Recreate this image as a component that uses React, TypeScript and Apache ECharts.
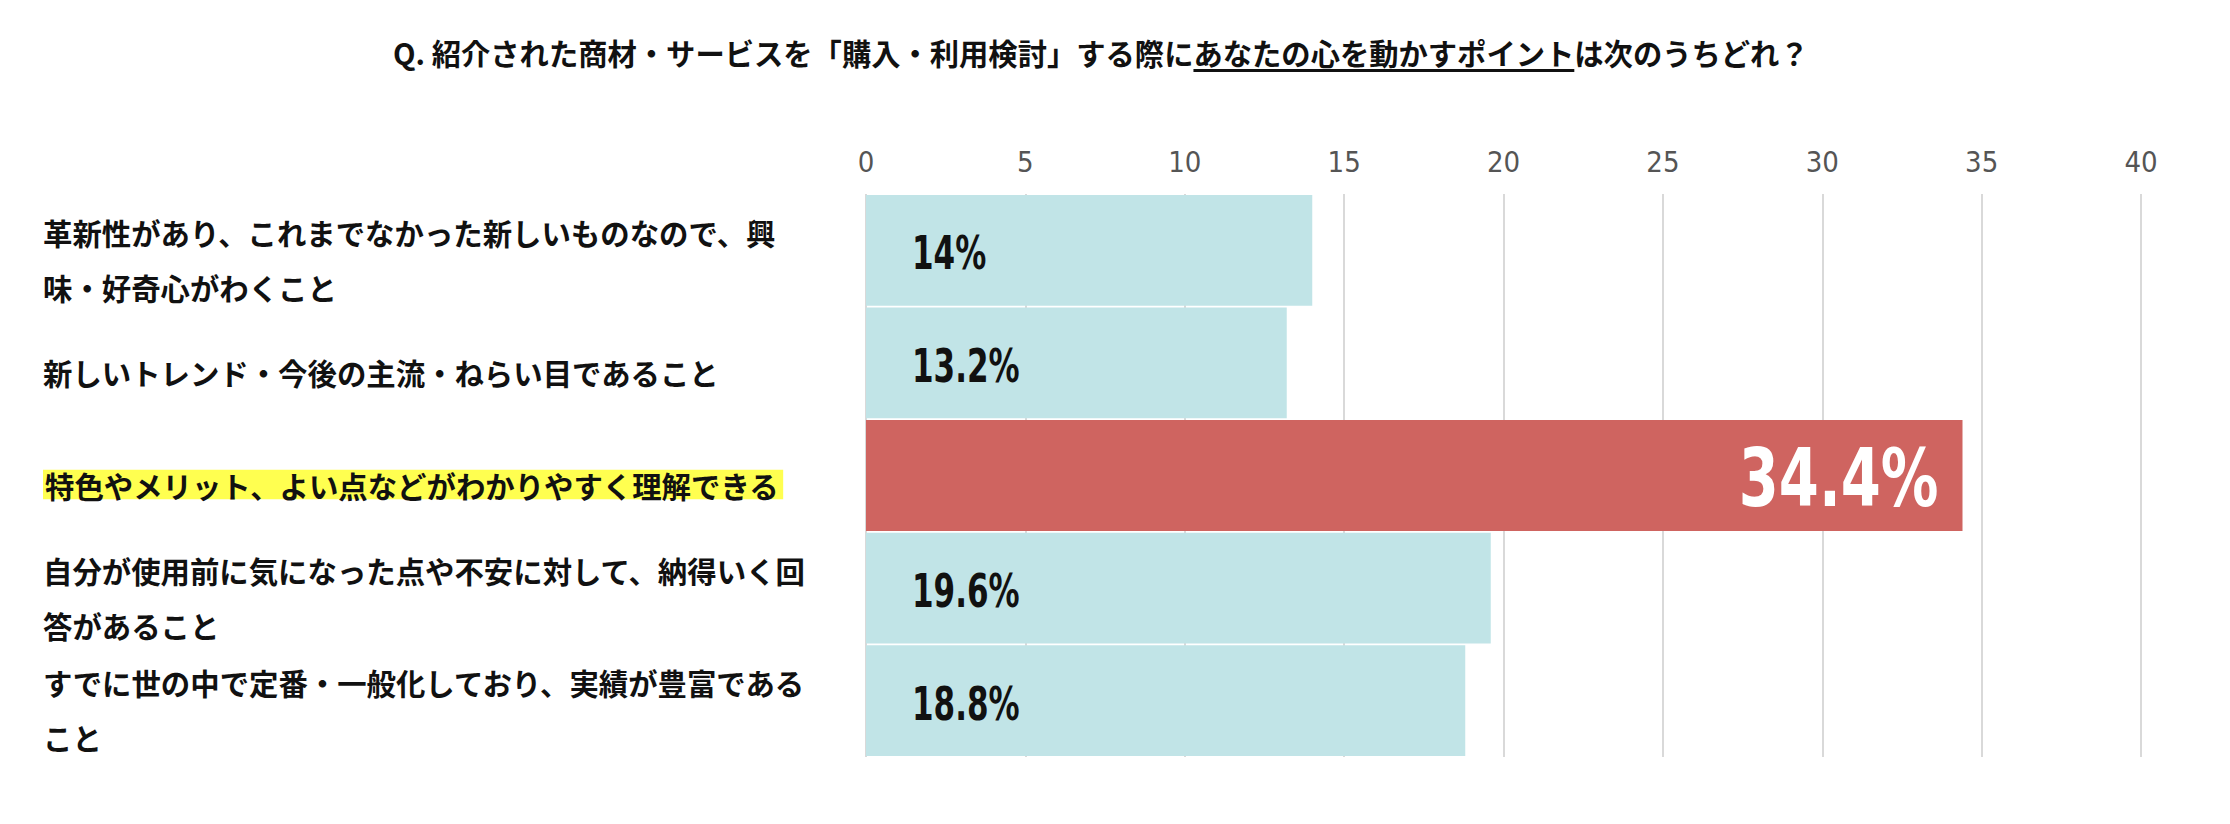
import React, { useEffect, useRef } from "react";
import * as echarts from "echarts";

// Survey question and answer data
const titlePrefix = "Q. 紹介された商材・サービスを「購入・利用検討」する際に";
const titleEmphasis = "あなたの心を動かすポイント";
const titleSuffix = "は次のうちどれ？";

const categories = [
  "革新性があり、これまでなかった新しいものなので、興\n味・好奇心がわくこと",
  "新しいトレンド・今後の主流・ねらい目であること",
  "特色やメリット、よい点などがわかりやすく理解できる",
  "自分が使用前に気になった点や不安に対して、納得いく回\n答があること",
  "すでに世の中で定番・一般化しており、実績が豊富である\nこと",
];
const values = [14, 13.2, 34.4, 19.6, 18.8];
const highlightIndex = 2;

const axisMin = 0;
const axisMax = 40;
const axisStep = 5;

const CJK = "'Noto Sans CJK JP', 'Noto Sans', sans-serif";
const NARROW = "'Liberation Sans Narrow', 'DejaVu Sans Condensed', 'Roboto', sans-serif";

const BLUE = "#c1e4e7";
const RED = "#cf6460";

function measure(text: string, font: string): number {
  const ctx = document.createElement("canvas").getContext("2d");
  if (!ctx) return 0;
  ctx.font = font;
  return ctx.measureText(text).width;
}

export default function App() {
  const ref = useRef<HTMLDivElement>(null);

  useEffect(() => {
    document.body.style.margin = "0";
    if (!ref.current) return;
    const chart = echarts.init(ref.current, undefined, { renderer: "svg" });

    const titleFont = `bold 29.3px ${CJK}`;
    const titleX = 393;
    const prefixW = measure(titlePrefix, titleFont);
    const emphW = measure(titleEmphasis, titleFont);

    const barData = values.map((v, i) => ({
      value: v,
      itemStyle: { color: i === highlightIndex ? RED : BLUE },
    }));

    // Percentage labels, drawn condensed (horizontally squeezed) on top of the bars
    const renderValueLabel = (params: any, api: any) => {
      const v = api.value(0);
      const idx = api.value(1);
      const start = api.coord([0, idx]);
      const end = api.coord([v, idx]);
      const hot = idx === highlightIndex;
      return {
        type: "text",
        x: hot ? end[0] - 24 : start[0] + 46,
        y: start[1] + 3,
        scaleX: hot ? 0.8 : 0.75,
        style: {
          x: 0,
          y: 0,
          text: `${v}%`,
          font: `bold ${hot ? 80 : 46}px ${NARROW}`,
          fill: hot ? "#ffffff" : "#111111",
          align: hot ? "right" : "left",
          verticalAlign: "middle",
        },
      };
    };

    chart.setOption({
      animation: false,
      backgroundColor: "#ffffff",
      grid: { left: 866, right: 89, top: 194, bottom: 67, containLabel: false },
      graphic: [
        {
          type: "text",
          left: titleX,
          top: 37,
          style: {
            text: titlePrefix + titleEmphasis + titleSuffix,
            font: titleFont,
            fill: "#111111",
          },
        },
        {
          type: "rect",
          shape: { x: titleX + prefixW, y: 69, width: emphW, height: 3 },
          style: { fill: "#111111" },
        },
      ],
      xAxis: {
        type: "value",
        position: "top",
        min: axisMin,
        max: axisMax,
        interval: axisStep,
        axisLine: { show: false },
        axisTick: { show: false },
        axisLabel: {
          margin: 18,
          fontSize: 29,
          color: "#555555",
          fontFamily: NARROW,
        },
        splitLine: { show: true, lineStyle: { color: "#d9d9d9", width: 2 } },
      },
      yAxis: {
        type: "category",
        inverse: true,
        data: categories,
        axisLine: { show: false },
        axisTick: { show: false },
        axisLabel: {
          align: "left",
          margin: 823,
          padding: [18, 0, 0, 0],
          formatter: (v: string, i: number) =>
            i === highlightIndex ? `{hl|${v}}` : `{n|${v}}`,
          rich: {
            n: {
              fontSize: 29.4,
              fontWeight: "bold",
              fontFamily: CJK,
              color: "#111111",
              lineHeight: 55,
            },
            hl: {
              fontSize: 29.4,
              fontWeight: "bold",
              fontFamily: CJK,
              color: "#111111",
              lineHeight: 37,
              backgroundColor: "#ffff50",
              padding: [0, 4, 0, 2],
            },
          },
        },
      },
      series: [
        {
          type: "bar",
          data: barData,
          barCategoryGap: "1.6%",
          label: { show: false },
        },
        {
          type: "custom",
          z: 5,
          data: values.map((v, i) => [v, i]),
          encode: { x: 0, y: 1 },
          renderItem: renderValueLabel,
        },
      ],
    });

    return () => chart.dispose();
  }, []);

  return <div ref={ref} style={{ width: 2230, height: 824 }} />;
}
